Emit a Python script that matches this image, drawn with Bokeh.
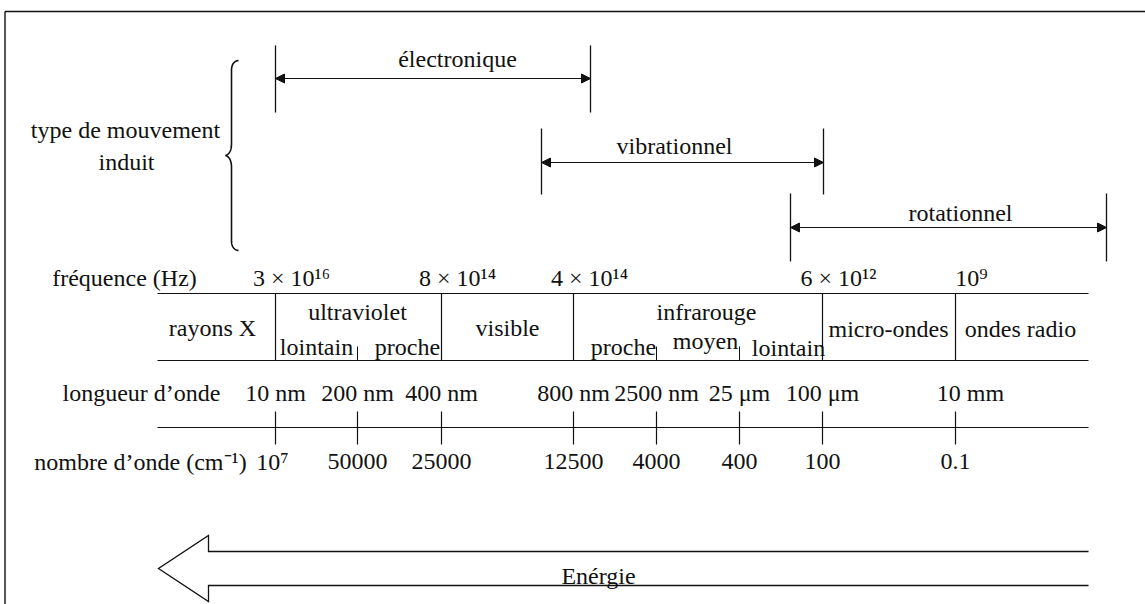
import numpy as np
from bokeh.plotting import figure
from bokeh.models import Arrow, NormalHead, Range1d
from bokeh.embed import file_html
from bokeh.resources import INLINE
from bokeh.core.properties import value

# ---------------- data (texts of the diagram) ----------------
motion_labels = ["électronique", "vibrationnel", "rotationnel"]
row_labels = ["fréquence (Hz)", "longueur d’onde", "nombre d’onde (cm⁻¹)"]
freq_labels = ["3 × 10¹⁶", "8 × 10¹⁴", "4 × 10¹⁴", "6 × 10¹²", "10⁹"]
region_labels = ["rayons X", "ultraviolet", "visible", "infrarouge", "micro-ondes", "ondes radio"]
sub_labels = ["lointain", "proche", "proche", "moyen", "lointain"]
wavelength_labels = ["10 nm", "200 nm", "400 nm", "800 nm", "2500 nm", "25 μm", "100 μm", "10 mm"]
wavenumber_labels = ["10⁷", "50000", "25000", "12500", "4000", "400", "100", "0.1"]
energy_label = "Enérgie"
side_label = ["type de mouvement", "induit"]

# ---------------- layout (diagram coordinates) ----------------
W, H = 1145, 604
FONT = value("Liberation Serif")
FS = "24px"
LC = "#111111"

p = figure(width=W, height=H, output_backend="svg", toolbar_location=None,
           x_range=Range1d(0, W), y_range=Range1d(H, 0),
           x_axis_location=None, y_axis_location=None, min_border=0,
           background_fill_color="white", border_fill_color="white")
p.outline_line_color = None
p.xgrid.visible = False
p.ygrid.visible = False


def txt(xs, ys, texts, align="center", size=FS):
    p.text(x=xs, y=ys, text=texts, text_font=FONT, text_font_size=size,
           text_align=align, text_baseline="alphabetic", text_color="#111111")


# frame (top and left)
p.segment(x0=[4.5, 4.5], y0=[11, 11], x1=[W, 4.5], y1=[11, H],
          line_color=LC, line_width=1.4)

# scale boundaries
bx = [275, 357, 441, 573, 656, 739, 822, 955]
major = [0, 2, 3, 6, 7]
minor = [1, 4, 5]
X0, X1 = 157, 1088
band_top, band_bot = 293, 360
axis_y = 427

# band
p.segment(x0=[X0, X0], y0=[band_top, band_bot], x1=[X1, X1], y1=[band_top, band_bot],
          line_color=LC, line_width=1.2)
p.segment(x0=[bx[i] for i in major], y0=band_top, x1=[bx[i] for i in major], y1=band_bot,
          line_color=LC, line_width=1.2)
p.segment(x0=[bx[i] for i in minor], y0=346, x1=[bx[i] for i in minor], y1=band_bot,
          line_color=LC, line_width=1.0)

# axis with ticks
p.segment(x0=[X0], y0=[axis_y], x1=[X1], y1=[axis_y], line_color=LC, line_width=1.2)
p.segment(x0=bx, y0=411, x1=bx, y1=444, line_color=LC, line_width=1.2)

# row labels
txt([124, 141, 140], [277, 392, 461], row_labels)

# frequency labels
txt([bx[i] + 16 for i in major], [277] * 5, freq_labels)

# region labels
txt([212, 357, 507, 706, 888, 1020], [327, 311, 327, 311, 328, 328], region_labels)
txt([316, 407, 623, 705, 788], [346, 346, 346, 340, 347], sub_labels)

# wavelength / wavenumber labels
wl_x = list(bx)
wl_x[-1] = 970
txt(wl_x, [392] * 8, wavelength_labels)
wn_x = list(bx)
wn_x[0] = 272
txt(wn_x, [461] * 8, wavenumber_labels)

# motion arrows
spans = [(275, 590), (541, 823), (790, 1106)]
bar_y = [(45, 112), (128, 194), (193, 261)]
arr_y = [78, 162, 227]
lab_x = [457, 674, 960]
lab_y = [58, 145, 212]
for (a, b), (t, u), ay in zip(spans, bar_y, arr_y):
    p.segment(x0=[a, b], y0=[t, t], x1=[a, b], y1=[u, u], line_color=LC, line_width=1.3)
    p.add_layout(Arrow(x_start=a, y_start=ay, x_end=b, y_end=ay,
                       start=NormalHead(size=9, fill_color=LC, line_color=LC, line_width=1),
                       end=NormalHead(size=9, fill_color=LC, line_color=LC, line_width=1),
                       line_color=LC, line_width=1.2))
txt(lab_x, lab_y, motion_labels)

# side label + brace
txt([125, 126], [129, 161], side_label)


def qbez(p0, p1, p2, n=20):
    t = np.linspace(0, 1, n)[:, None]
    P = (1 - t) ** 2 * np.array(p0) + 2 * (1 - t) * t * np.array(p1) + t ** 2 * np.array(p2)
    return P


bxl, top, bot, mid = 231, 60, 250, 155
pts = np.vstack([
    qbez((238, top), (bxl, top + 1), (bxl, top + 10)),
    qbez((bxl, mid - 12), (bxl, mid - 2), (225, mid)),
    qbez((225, mid), (bxl, mid + 2), (bxl, mid + 12)),
    qbez((bxl, bot - 10), (bxl, bot - 1), (238, bot)),
])
p.line(pts[:, 0], pts[:, 1], line_color=LC, line_width=1.6)

# energy arrow (outline)
ecy = 568
ax = [X1, 208, 208, 158, 208, 208, X1]
ay_ = [ecy - 17, ecy - 17, ecy - 33, ecy, ecy + 33, ecy + 17, ecy + 17]
p.line(ax, ay_, line_color=LC, line_width=1.3, line_join="miter")
txt([598], [ecy + 7], [energy_label])

open("out.html", "w").write(file_html(p, INLINE))
